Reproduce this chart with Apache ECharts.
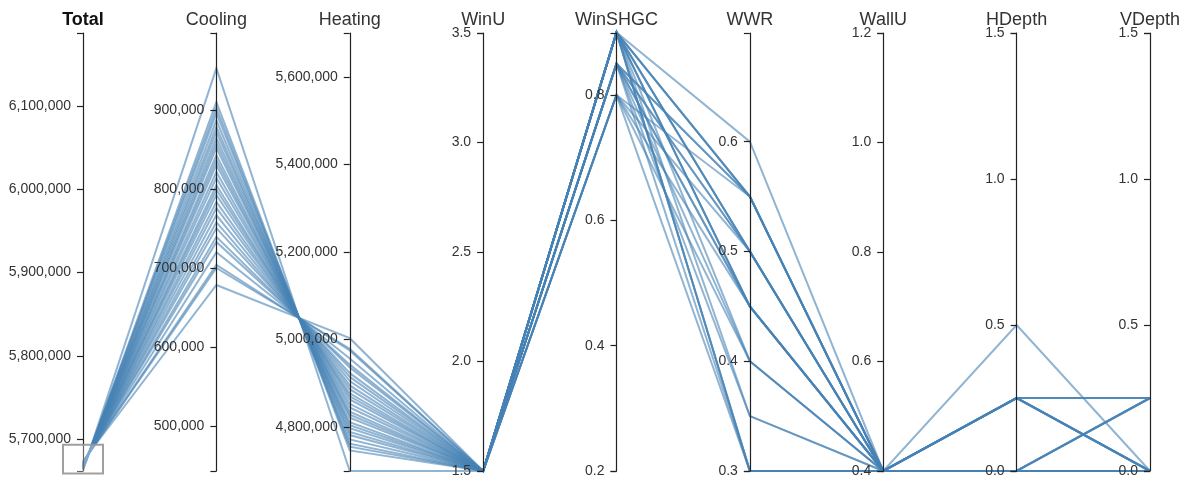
<!DOCTYPE html>
<html>
<head>
<meta charset="UTF-8">
<title>Parallel coordinates</title>
<style>
body { margin: 0; padding: 0; background: #fff; }
#main { width: 1189px; height: 477px; }
</style>
</head>
<body>
<div id="main"></div>
<script src="https://cdn.jsdelivr.net/npm/echarts@6/dist/echarts.min.js"></script>
<script>
// axis names
var dims = ['Total', 'Cooling', 'Heating', 'WinU', 'WinSHGC', 'WWR', 'WallU', 'HDepth', 'VDepth'];
// axis domains (min / max)
var axisMin = [5661600, 443000, 4699400, 1.5, 0.2, 0.3, 0.4, 0, 0];
var axisMax = [6187600, 997500, 5700600, 3.5, 0.899, 0.699, 1.2, 1.5, 1.5];
// tick labels per axis
var tickLabels = [
    [5700000, 5800000, 5900000, 6000000, 6100000],
    [500000, 600000, 700000, 800000, 900000],
    [4800000, 5000000, 5200000, 5400000, 5600000],
    [1.5, 2.0, 2.5, 3.0, 3.5],
    [0.2, 0.4, 0.6, 0.8],
    [0.3, 0.4, 0.5, 0.6],
    [0.4, 0.6, 0.8, 1.0, 1.2],
    [0, 0.5, 1.0, 1.5],
    [0, 0.5, 1.0, 1.5]
];

// one value per run
var total = [5662000, 5663600, 5664000, 5664200, 5664400, 5665000, 5665200, 5665600, 5665800, 5666200,
             5666600, 5666800, 5667200, 5667400, 5667800, 5668200, 5668600, 5668800, 5669000, 5669400,
             5669800, 5670000, 5670400, 5671200, 5671200, 5671600, 5672600, 5672600, 5673600];
var cooling = [953000, 910000, 902500, 896000, 887000, 878500, 872000, 864500, 858000, 852000,
               843000, 836500, 830500, 821500, 814000, 805000, 799000, 792500, 783500, 776000,
               767000, 758000, 750500, 739500, 733000, 720000, 704000, 700000, 678500];
var heating = [4699500, 4746500, 4755000, 4762000, 4771500, 4781500, 4788500, 4797000, 4804000, 4811000,
               4821000, 4828000, 4835000, 4844500, 4853000, 4863000, 4870000, 4877000, 4886500, 4895000,
               4905000, 4914500, 4923000, 4936000, 4942500, 4956500, 4975000, 4979000, 5003000];
var winU = [1.5, 1.5, 1.5, 1.5, 1.5, 1.5, 1.5, 1.5, 1.5, 1.5, 1.5, 1.5, 1.5, 1.5, 1.5,
            1.5, 1.5, 1.5, 1.5, 1.5, 1.5, 1.5, 1.5, 1.5, 1.5, 1.5, 1.5, 1.5, 1.5];
var winSHGC = [0.9, 0.9, 0.9, 0.85, 0.9, 0.9, 0.85, 0.9, 0.9, 0.85, 0.9, 0.8, 0.9, 0.85, 0.9,
               0.85, 0.9, 0.8, 0.9, 0.85, 0.9, 0.85, 0.8, 0.9, 0.85, 0.8, 0.9, 0.85, 0.8];
var wwr = [0.6, 0.55, 0.55, 0.55, 0.5, 0.55, 0.5, 0.5, 0.45, 0.55, 0.5, 0.55, 0.45, 0.45, 0.4,
           0.5, 0.45, 0.5, 0.35, 0.4, 0.3, 0.45, 0.45, 0.3, 0.35, 0.4, 0.3, 0.3, 0.3];
var wallU = [0.4, 0.4, 0.4, 0.4, 0.4, 0.4, 0.4, 0.4, 0.4, 0.4, 0.4, 0.4, 0.4, 0.4, 0.4,
             0.4, 0.4, 0.4, 0.4, 0.4, 0.4, 0.4, 0.4, 0.4, 0.4, 0.4, 0.4, 0.4, 0.4];
var hDepth = [0, 0, 0.25, 0, 0, 0, 0, 0.25, 0, 0.25, 0, 0, 0.25, 0, 0,
              0.25, 0, 0, 0, 0.25, 0, 0.5, 0, 0.25, 0, 0, 0, 0.25, 0];
var vDepth = [0, 0, 0, 0, 0, 0.25, 0, 0, 0, 0.25, 0.25, 0, 0, 0, 0,
              0.25, 0.25, 0, 0, 0, 0, 0, 0, 0.25, 0, 0, 0.25, 0, 0];
// brushed range on the Total axis
var brushRange = [5661000, 5693000];

var rows = [];
for (var i = 0; i < total.length; i++) {
    rows.push([total[i], cooling[i], heating[i], winU[i], winSHGC[i], wwr[i], wallU[i], hDepth[i], vDepth[i]]);
}

function fmtBig(v) {
    return Math.round(v).toString().replace(/\B(?=(\d{3})+(?!\d))/g, ',');
}
function fmt1(v) {
    return (+v).toFixed(1);
}

var plotLeft = 83, plotRight = 39, plotTop = 33, plotBottom = 6;
var H = 477;

var axes = dims.map(function (d, k) {
    return {
        dim: k,
        id: 'ax' + k,
        name: d,
        min: axisMin[k],
        max: axisMax[k],
        nameMoveOverlap: false,
        nameTextStyle: {
            fontSize: 18,
            fontWeight: k === 0 ? 'bold' : 'normal',
            color: k === 0 ? '#111' : '#333'
        },
        axisTick: {
            customValues: [axisMin[k]].concat(tickLabels[k], [axisMax[k]])
        },
        axisLabel: {
            customValues: tickLabels[k],
            formatter: k < 3 ? fmtBig : fmt1
        }
    };
});

// brush box on the Total axis (value range -> pixel via the axis domain)
var axisLen = H - plotTop - plotBottom;
function totalToY(v) {
    return plotTop + (1 - (v - axisMin[0]) / (axisMax[0] - axisMin[0])) * axisLen;
}
var boxTop = totalToY(brushRange[1]);
var boxBottom = totalToY(brushRange[0]) + 2;

var myChart = echarts.init(document.getElementById('main'));
var option = {
    animation: false,
    parallel: {
        left: plotLeft,
        right: plotRight,
        top: plotTop,
        bottom: plotBottom,
        parallelAxisDefault: {
            type: 'value',
            nameLocation: 'end',
            nameGap: 4,
            nameMoveOverlap: false,
            axisLine: { lineStyle: { color: '#222', width: 1.2 } },
            axisTick: { length: -6, lineStyle: { color: '#222', width: 1.2 } },
            axisLabel: {
                color: '#333', fontSize: 14, align: 'right', margin: -12,
                hideOverlap: false,
                fontFamily: 'Liberation Sans, Arial, sans-serif'
            },
            splitLine: { show: false }
        }
    },
    textStyle: { fontFamily: 'Liberation Sans, Arial, sans-serif' },
    parallelAxis: axes,
    graphic: [{
        type: 'rect',
        z: 100,
        shape: { x: plotLeft - 20, y: boxTop, width: 40, height: boxBottom - boxTop },
        style: { fill: 'rgba(255,255,255,0.3)', stroke: 'rgba(150,150,150,0.9)', lineWidth: 2 }
    }],
    series: [{
        type: 'parallel',
        smooth: false,
        lineStyle: { color: '#4682b4', width: 2, opacity: 0.6 },
        data: rows
    }]
};
myChart.setOption(option);
</script>
</body>
</html>
